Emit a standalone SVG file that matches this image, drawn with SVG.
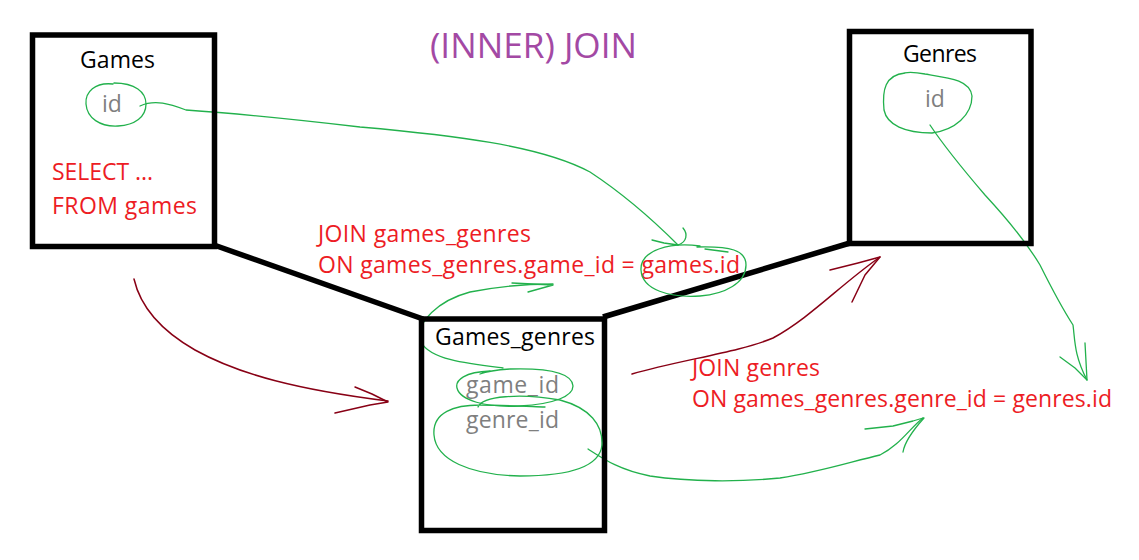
<svg xmlns="http://www.w3.org/2000/svg" width="1139" height="560" viewBox="0 0 1139 560">
<style>
.box{fill:none;stroke:#000;stroke-width:5.5}
.lnk{stroke:#000;stroke-width:5.5;fill:none}
.t{font-family:"Open Sans","Noto Sans",sans-serif;font-size:23px}
.name{fill:#000}
.fld{fill:#7f7f7f}
.red{fill:#ed1c24}
.g{fill:none;stroke:#22b14c;stroke-width:1.3;stroke-linecap:round;stroke-linejoin:round}
.r{fill:none;stroke:#880015;stroke-width:1.5;stroke-linecap:round;stroke-linejoin:round}
</style>
<rect width="1139" height="560" fill="#fff"/>
<text x="430" y="58" font-family="Open Sans, Noto Sans, sans-serif" font-size="34" fill="#a349a4" textLength="207" lengthAdjust="spacingAndGlyphs">(INNER) JOIN</text>
<g id="connectors">
<path class="lnk" d="M214,245 L423,319"/>
<path class="lnk" d="M603,317 L850,243"/>
<path class="g" d="M140,106 C155,99 170,104 186,110 C230,113 300,120 360,127 C450,135 540,145 590,172 C625,195 655,222 678,245"/>
<path class="g" d="M652,240 L664,243 L678,245 M683,228 C688,234 687,242 678,245"/>
<path class="g" d="M503,368 C470,364 430,360 421,342 C414,322 440,300 470,292 C500,286 530,284 553,284"/>
<path class="g" d="M512,283 L553,285 L528,292"/>
<path class="g" d="M588,449 C605,460 620,470 650,476 C690,482 740,482 780,478 C820,472 850,462 880,455 C900,445 910,428 923,418"/>
<path class="g" d="M865,429 L893,426 L913,421 L923,418 M903,452 C905,440 915,428 924,418"/>
<path class="g" d="M930,125 C940,140 955,160 985,195 C1010,222 1028,245 1040,265 C1050,285 1062,308 1073,325 C1075,340 1074,355 1087,380"/>
<path class="g" d="M1060,357 L1075,368 L1087,380 L1085,343"/>
<path class="r" d="M134,279 C140,305 160,330 195,350 C240,375 300,390 388,401"/>
<path class="r" d="M355,387 L372,394 L388,402 L370,405 L335,413"/>
<path class="r" d="M632,374 C680,360 740,352 773,338 C810,318 840,285 880,257"/>
<path class="r" d="M830,270 L858,263 L880,257 L865,275 L852,302"/>
</g>
<g id="games">
<rect class="box" x="32.5" y="35" width="182" height="211.5"/>
<text class="t name" x="80" y="68" textLength="75">Games</text>
<text class="t fld" x="102" y="112">id</text>
<path class="g" d="M113,84 C95,82 85,92 86,104 C87,118 100,127 118,126 C135,125 146,117 146,104 C146,92 135,83 114,83"/>
<text class="t red" x="52" y="180" textLength="101">SELECT ...</text>
<text class="t red" x="52" y="214" textLength="145">FROM games</text>
</g>
<g id="games_genres">
<rect class="box" x="421.5" y="319" width="183" height="211.5"/>
<text class="t name" x="435" y="345" textLength="160">Games_genres</text>
<text class="t fld" x="466" y="393" textLength="93">game_id</text>
<text class="t fld" x="466" y="428" textLength="93">genre_id</text>
<path class="g" d="M490,371 C465,372 455,380 457,388 C460,400 485,408 520,406 C555,404 573,396 573,386 C572,372 545,368 510,369 C495,370 485,372 480,374"/>
<path class="g" d="M478,407 C482,396 520,393 560,400 C590,408 603,425 602,445 C600,465 575,476 520,476 C470,475 436,460 434,435 C432,412 455,405 480,405 C500,405 520,406 545,407"/>
</g>
<g id="genres">
<rect class="box" x="849.5" y="31.5" width="181.5" height="212"/>
<text class="t name" x="903" y="62" textLength="74">Genres</text>
<text class="t fld" x="925" y="107">id</text>
<path class="g" d="M905,73 C885,75 882,90 884,110 C887,125 905,133 932,133 C955,130 972,115 972,96 C970,80 950,78 925,74 C915,72 905,72 900,74"/>
</g>
<g id="join1">
<text class="t red" x="318" y="242" textLength="213">JOIN games_genres</text>
<text class="t red" x="318" y="273" textLength="422">ON games_genres.game_id = games.id</text>
<path class="g" d="M700,246 C670,242 640,250 641,270 C642,290 670,298 700,296 C725,294 746,283 746,265 C746,250 730,246 697,247 M705,249 L728,252"/>
</g>
<g id="join2">
<text class="t red" x="692" y="376" textLength="128">JOIN genres</text>
<text class="t red" x="692" y="407" textLength="420">ON games_genres.genre_id = genres.id</text>
</g>
</svg>
